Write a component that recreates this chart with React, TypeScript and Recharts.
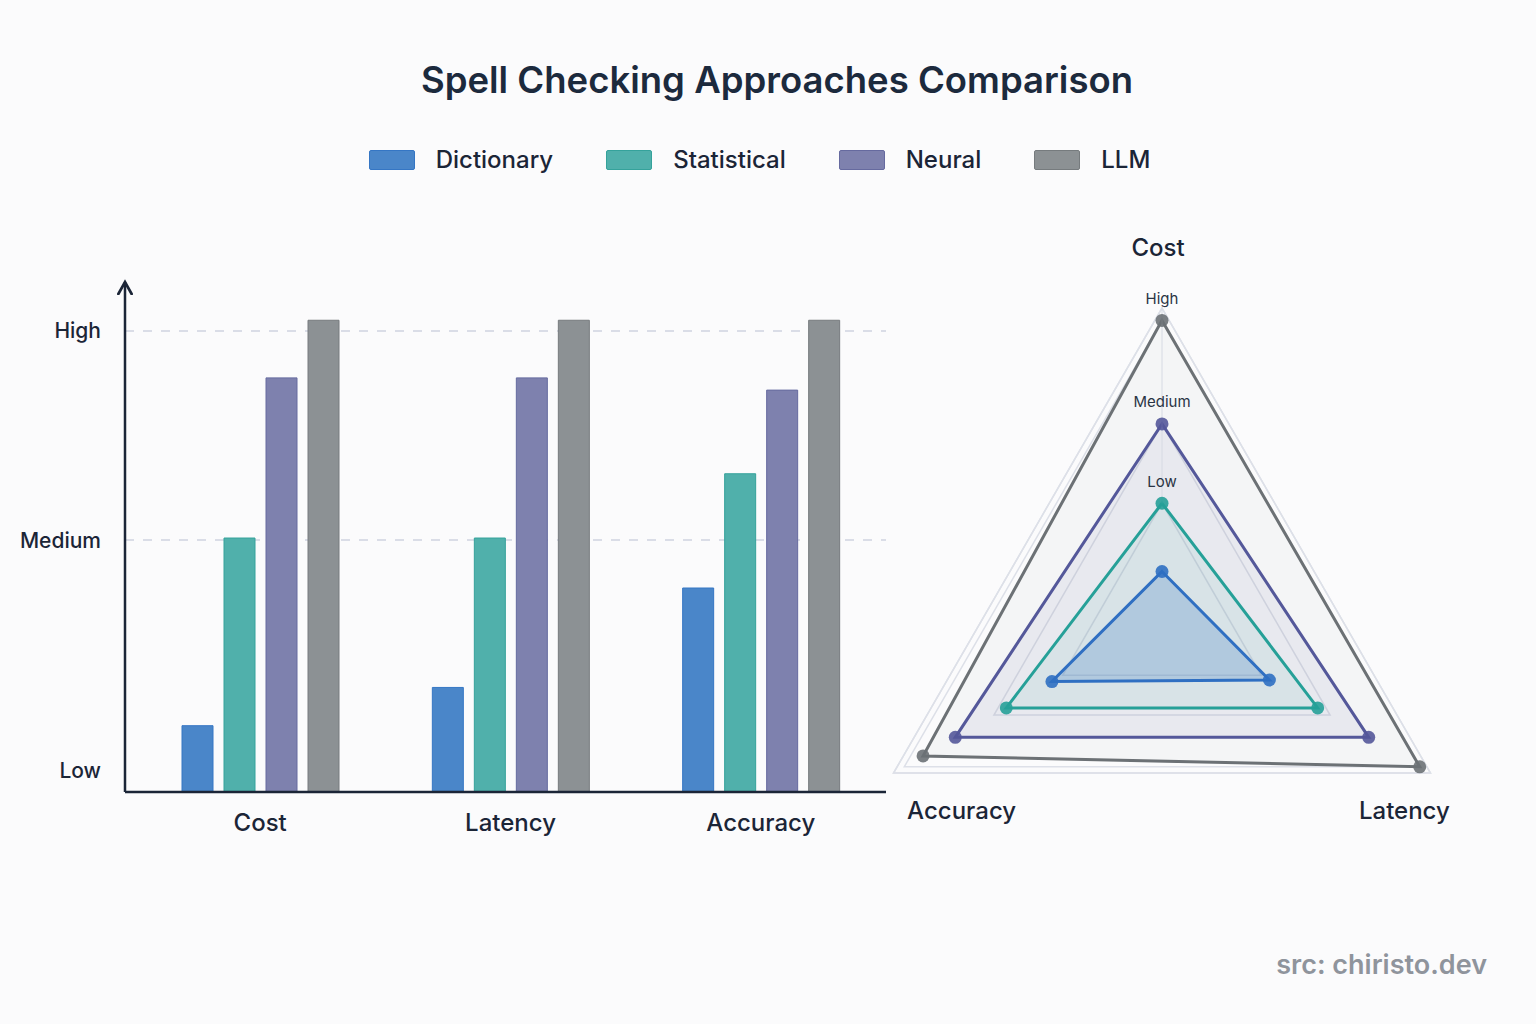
import React from "react";
import {
  Bar,
  BarChart,
  CartesianGrid,
  PolarAngleAxis,
  PolarGrid,
  PolarRadiusAxis,
  Radar,
  RadarChart,
  XAxis,
  YAxis,
} from "recharts";

const TITLE = "Spell Checking Approaches Comparison";
const SOURCE = "src: chiristo.dev";
const CATEGORIES = ["Cost", "Latency", "Accuracy"];
const SERIES = ["Dictionary", "Statistical", "Neural", "LLM"];
const LEVEL_LABELS = ["Low", "Medium", "High"];

// bar heights on a 0-100 scale
const BAR_DICTIONARY = [13, 20.5, 40];
const BAR_STATISTICAL = [49.8, 49.8, 62.4];
const BAR_NEURAL = [81.2, 81.2, 78.8];
const BAR_LLM = [92.5, 92.5, 92.5];
const BAR_LEVELS = [4.3, 49.4, 90.4];

// radar values on a 0-100 scale
const RADAR_DICTIONARY = [15, 40, 41];
const RADAR_STATISTICAL = [37, 58, 58];
const RADAR_NEURAL = [62.6, 77, 77];
const RADAR_LLM = [96, 96, 89];
const RADAR_LEVELS = [37, 62.6, 96, 100];

const barValues: Record<string, number[]> = {
  Dictionary: BAR_DICTIONARY,
  Statistical: BAR_STATISTICAL,
  Neural: BAR_NEURAL,
  LLM: BAR_LLM,
};
const radarValues: Record<string, number[]> = {
  Dictionary: RADAR_DICTIONARY,
  Statistical: RADAR_STATISTICAL,
  Neural: RADAR_NEURAL,
  LLM: RADAR_LLM,
};

const barData = CATEGORIES.map((metric, i) => {
  const row: Record<string, any> = { metric };
  SERIES.forEach((s) => (row[s] = barValues[s][i]));
  return row;
});
const radarData = CATEGORIES.map((metric, i) => {
  const row: Record<string, any> = { metric };
  SERIES.forEach((s) => (row[s] = radarValues[s][i]));
  return row;
});

const INK = "#1b2537";
const FONT = "Inter, 'Noto Sans', sans-serif";
const FILL: Record<string, string> = {
  Dictionary: "#4a86c9",
  Statistical: "#50b0ab",
  Neural: "#7e81ae",
  LLM: "#8c9194",
};
const EDGE: Record<string, string> = {
  Dictionary: "#3576c4",
  Statistical: "#35a29b",
  Neural: "#666a9f",
  LLM: "#767b7e",
};
const LINE: Record<string, string> = {
  Dictionary: "#2f6fc2",
  Statistical: "#26a098",
  Neural: "#54589a",
  LLM: "#6c7175",
};
const AREA_OPACITY: Record<string, number> = {
  Dictionary: 0.28,
  Statistical: 0.1,
  Neural: 0.1,
  LLM: 0.06,
};
// label nudges for the radar corners (Cost, Latency, Accuracy)
const ANGLE_NUDGE = [
  [-4, -52],
  [-33, 34],
  [75, 34],
];

const levelLabel = (v: number) => {
  const i = BAR_LEVELS.indexOf(v);
  return i >= 0 ? LEVEL_LABELS[i] : "";
};

const RadiusTick = (props: any) => {
  const { x, y, payload } = props;
  const i = RADAR_LEVELS.indexOf(payload.value);
  if (i < 0 || i >= LEVEL_LABELS.length) return null;
  return (
    <text x={x} y={y - 22} textAnchor="middle" dy="0.35em" fontSize={15} fill="#2a3444" fontFamily={FONT}>
      {LEVEL_LABELS[i]}
    </text>
  );
};

const AngleTick = (props: any) => {
  const { x, y, payload, index } = props;
  const [dx, dy] = ANGLE_NUDGE[index] || [0, 0];
  return (
    <text x={x + dx} y={y + dy} textAnchor="middle" dy="0.35em" fontSize={24} fontWeight={500} fill={INK} fontFamily={FONT}>
      {payload.value}
    </text>
  );
};

export default function App() {
  return (
    <div
      style={{
        position: "absolute",
        left: 0,
        top: 0,
        width: 1536,
        height: 1024,
        background: "#fbfbfc",
        fontFamily: FONT,
        color: INK,
        overflow: "hidden",
      }}
    >
      <div
        style={{
          position: "absolute",
          top: 55,
          left: 0,
          width: 1554,
          textAlign: "center",
          fontSize: 36.5,
          fontWeight: 600,
          lineHeight: "50px",
          color: "#1c2a3d",
        }}
      >
        {TITLE}
      </div>

      <div
        style={{
          position: "absolute",
          top: 144,
          left: 0,
          width: 1519,
          display: "flex",
          justifyContent: "center",
          gap: 53,
          fontSize: 24,
          fontWeight: 500,
          lineHeight: "32px",
        }}
      >
        {SERIES.map((s) => (
          <div key={s} style={{ display: "flex", alignItems: "center", gap: 21 }}>
            <span
              style={{
                display: "inline-block",
                width: 44,
                height: 18,
                background: FILL[s],
                border: `1.5px solid ${EDGE[s]}`,
                borderRadius: 2,
              }}
            />
            <span>{s}</span>
          </div>
        ))}
      </div>

      <div style={{ position: "absolute", left: 0, top: 230 }}>
        <BarChart
          width={900}
          height={620}
          data={barData}
          margin={{ top: 52, right: 14, bottom: 18, left: 0 }}
          barSize={31}
          barGap={11}
        >
          <defs>
            <marker
              id="axisArrow"
              viewBox="0 0 12 12"
              refX="10"
              refY="6"
              markerWidth="16"
              markerHeight="16"
              markerUnits="userSpaceOnUse"
              orient="auto-start-reverse"
            >
              <path d="M1,1 L10,6 L1,11" fill="none" stroke={INK} strokeWidth={2} strokeLinecap="round" />
            </marker>
          </defs>
          <CartesianGrid
            vertical={false}
            horizontalValues={[BAR_LEVELS[1], BAR_LEVELS[2]]}
            stroke="#cfd3df"
            strokeWidth={1.5}
            strokeDasharray="9 9"
          />
          <XAxis
            dataKey="metric"
            height={40}
            padding={{ left: 10, right: 0 }}
            tickLine={false}
            tickSize={0}
            tickMargin={22}
            axisLine={{ stroke: INK, strokeWidth: 2.5 }}
            tick={{ fill: INK, fontSize: 24, fontWeight: 500, fontFamily: FONT }}
          />
          <YAxis
            width={125}
            domain={[0, 100]}
            ticks={BAR_LEVELS}
            tickFormatter={levelLabel}
            tickLine={false}
            tickSize={0}
            tickMargin={24}
            axisLine={{ stroke: INK, strokeWidth: 2.5, markerStart: "url(#axisArrow)" }}
            tick={{ fill: INK, fontSize: 21, fontWeight: 500, fontFamily: FONT }}
          />
          {SERIES.map((s) => (
            <Bar
              key={s}
              dataKey={s}
              fill={FILL[s]}
              stroke={EDGE[s]}
              strokeWidth={1}
              isAnimationActive={false}
            />
          ))}
        </BarChart>
      </div>

      <div style={{ position: "absolute", left: 860, top: 200 }}>
        <RadarChart
          width={620}
          height={660}
          data={radarData}
          cx={302}
          cy={418}
          outerRadius={310}
          margin={{ top: 0, right: 0, bottom: 0, left: 0 }}
        >
          <PolarGrid gridType="polygon" radialLines={false} stroke="#dde0e8" strokeWidth={1.5} />
          <PolarAngleAxis
            dataKey="metric"
            tick={<AngleTick />}
            tickLine={false}
            axisLine={{ stroke: "#dde0e8", strokeWidth: 1.5 }}
          />
          <PolarRadiusAxis
            angle={90}
            domain={[0, 100]}
            ticks={RADAR_LEVELS as any}
            tick={<RadiusTick />}
            tickLine={false}
            axisLine={{ stroke: "#d6dae3" }}
          />
          {[...SERIES].reverse().map((s) => (
            <Radar
              key={s}
              dataKey={s}
              stroke={LINE[s]}
              strokeWidth={3}
              fill={FILL[s]}
              fillOpacity={AREA_OPACITY[s]}
              dot={{ r: 6.5, fill: LINE[s], stroke: "none", fillOpacity: 0.9 }}
              isAnimationActive={false}
            />
          ))}
        </RadarChart>
      </div>

      <div
        style={{
          position: "absolute",
          right: 49,
          top: 946,
          fontSize: 27,
          fontWeight: 600,
          color: "#8f949c",
          lineHeight: "38px",
        }}
      >
        {SOURCE}
      </div>
    </div>
  );
}
